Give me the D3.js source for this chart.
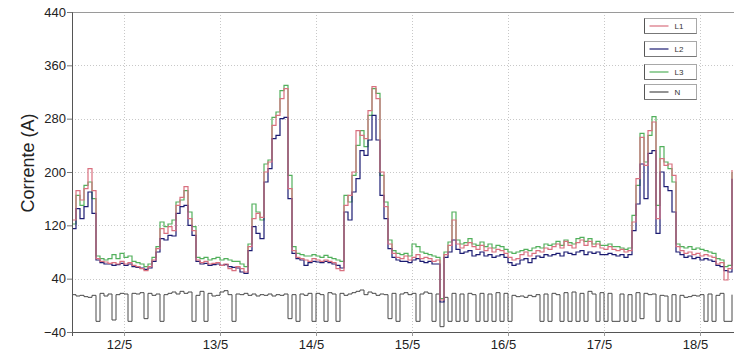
<!DOCTYPE html>
<html>
<head>
<meta charset="utf-8">
<script src="https://cdn.jsdelivr.net/npm/d3@7"></script>
<style>
  html, body { margin: 0; padding: 0; background: #fff; }
  svg { display: block; font-family: "Liberation Sans", Arial, sans-serif; }
</style>
</head>
<body>
<svg id="chart" width="734" height="354"></svg>
<script>
// Hourly phase and neutral currents (A), starting 11/5 11:00
const seriesNames = ["L1", "L2", "L3", "N"];
const seriesColors = ["#d9707f", "#1c1c72", "#52b05c", "#4a4a4a"];

const L1 = [
  128,172,158,175,205,172, 70,66,65,63,64,62,66,62,64,60,58,55,52,58,
  68,85,115,108,118,112,150,162,178,130,112, 68,64,66,62,63,64,60,62,55,
  52,58,55,50,88,130,138,132,200,215,270,285,310,325,175,82, 72,70,68,66,
  70,68,66,68,66,64,55,52,150,165,200,262,255,250,292,328,310,200,148,92,
  78,72,70,74,68,72,76,70,72,70,66,68,8,76,90,128,92,86,90,94,
  88,84,90,82,86,80,84,82,78,72,68,70,76,80,74,78,82,80,86,84,
  88,92,86,96,90,86,94,98,90,96,88,92,86,84,88,84,82,84,80,82,
  125,190,252,210,262,275,130,220,210,212,195,88,82,78,80,76,78,74,76,74,
  72,62,64,38,55,203
];
const L2 = [
  115,145,130,148,170,138, 68,64,62,62,60,61,63,60,62,58,57,56,54,56,
  66,80,100,98,105,104,138,148,150,120,105, 66,62,63,60,61,62,60,61,58,
  57,56,50,48,82,118,108,100,185,205,250,255,280,282,160,78, 70,68,60,64,
  66,65,64,66,64,62,60,56,140,128,170,190,232,225,248,285,248,165,130,85,
  72,68,66,66,64,68,70,66,64,66,62,62,5,72,80,98,84,78,80,82,
  74,76,80,74,76,72,74,76,72,64,60,62,68,70,64,70,74,72,76,74,
  76,78,74,80,78,76,80,82,76,80,78,80,76,76,78,76,74,76,72,76,
  112,152,212,160,228,232,108,200,178,172,140,80,76,72,74,70,72,68,70,68,
  66,60,58,52,50,190
];
const L3 = [
  122,165,150,180,185,160, 74,70,68,70,76,70,78,72,74,66,64,62,58,62,
  72,88,125,118,122,128,155,158,172,140,118, 72,70,72,68,70,72,68,70,68,
  66,66,62,58,92,152,140,128,212,218,282,290,322,330,195,88, 78,76,74,74,
  76,74,72,75,72,70,68,66,165,155,195,240,262,238,285,325,318,195,155,98,
  82,78,76,78,74,92,88,80,78,76,74,72,10,80,95,140,98,92,94,100,
  92,90,95,88,92,86,90,88,84,80,78,80,82,84,82,86,88,86,92,90,
  92,96,90,98,94,92,100,102,96,100,92,96,90,90,92,88,88,86,84,86,
  135,180,258,215,255,283,150,238,215,205,185,92,88,86,88,84,86,84,82,80,
  78,70,68,58,60,200
];
const N = [
  16,14,15,13,12,15,-24,18,14,17,-22,16,18,17,-24,18,17,19,-20,18,
  15,17,-24,16,18,20,17,21,18,20,-24,15,21,-24,18,14,15,20,22,16,
  -24,17,16,18,15,17,14,16,15,17,14,16,15,17,-20,16,-24,17,15,18,
  -24,18,16,-24,19,17,-24,18,15,17,19,21,23,16,20,18,15,17,16,-20,
  18,-24,17,19,16,18,-24,17,20,18,-24,17,-32,12,-24,18,-24,17,-24,18,
  16,-24,18,-24,17,-24,19,-24,18,-24,15,13,14,12,15,13,16,-24,17,-24,
  18,16,-24,19,-24,20,-24,18,-24,21,17,-24,19,-24,18,-24,-24,17,-24,16,
  -24,19,-20,18,16,17,-24,15,14,-24,16,-24,15,12,13,15,14,16,-24,17,
  -24,15,18,-24,-24,16
];
const yTickValues = [-40, 40, 120, 200, 280, 360, 440];
const yAxisTitle = "Corrente (A)";

const seriesData = [L1, L2, L3, N];

const W = 734, H = 354;
const m = { left: 72, right: 0, top: 12, bottom: 22 };
const svg = d3.select("#chart");

const t0 = new Date(2021, 4, 11, 11, 0);
const t1 = new Date(2021, 4, 18, 8, 30);
const times = d3.range(L1.length).map(i => d3.timeHour.offset(t0, i));

const x = d3.scaleTime().domain([t0, t1]).range([m.left, W - m.right]);
const y = d3.scaleLinear().domain([-40, 440]).range([H - m.bottom, m.top]);

const plotBottom = H - m.bottom;

svg.append("defs").append("clipPath").attr("id", "plot-clip")
  .append("rect")
  .attr("x", m.left).attr("y", m.top - 1)
  .attr("width", W - m.left).attr("height", plotBottom - m.top + 1);

// Dotted grid
const dayTicks = d3.timeDay.range(d3.timeDay.ceil(t0), t1);
const grid = svg.append("g").attr("stroke", "#c8c8c8").attr("stroke-dasharray", "1,2").attr("stroke-width", 1);
grid.selectAll("line.h").data(yTickValues.filter(v => v > -40 && v < 440)).join("line")
  .attr("x1", m.left).attr("x2", W)
  .attr("y1", d => Math.round(y(d)) + 0.5).attr("y2", d => Math.round(y(d)) + 0.5);
grid.selectAll("line.v").data(dayTicks).join("line")
  .attr("y1", m.top).attr("y2", plotBottom)
  .attr("x1", d => Math.round(x(d)) + 0.5).attr("x2", d => Math.round(x(d)) + 0.5);

// Top frame line
svg.append("line")
  .attr("x1", m.left).attr("x2", W)
  .attr("y1", m.top + 0.5).attr("y2", m.top + 0.5)
  .attr("stroke", "#9a9a9a");

// Series lines
const line = d3.line()
  .x((d, i) => x(times[i]))
  .y(d => y(d))
  .curve(d3.curveStepAfter);

const lines = svg.append("g").attr("clip-path", "url(#plot-clip)");
[3, 2, 1, 0].forEach(k => {
  lines.append("path")
    .datum(seriesData[k])
    .attr("fill", "none")
    .attr("stroke", seriesColors[k])
    .attr("stroke-width", k === 3 ? 1 : 1.2)
    .attr("d", line);
});

// Y axis
const yAxisG = svg.append("g").attr("transform", `translate(${m.left},0)`);
yAxisG.call(d3.axisLeft(y).tickValues(d3.range(-40, 441, 10)).tickSize(3).tickFormat(""));
yAxisG.call(d3.axisLeft(y).tickValues(yTickValues).tickSize(5).tickPadding(1));
yAxisG.selectAll(".domain").attr("stroke", "#555");
yAxisG.selectAll(".tick line").attr("stroke", "#777");
yAxisG.selectAll(".tick text").attr("font-size", 13).attr("fill", "#222")
  .attr("font-family", "'Liberation Sans', Arial, sans-serif");

// X axis
const xAxisG = svg.append("g").attr("transform", `translate(0,${plotBottom})`);
xAxisG.call(d3.axisBottom(x).ticks(d3.timeHour.every(6)).tickSize(3).tickFormat(""));
xAxisG.call(d3.axisBottom(x).tickValues(dayTicks).tickSize(4).tickPadding(4)
  .tickFormat(d3.timeFormat("%-d/%-m")));
xAxisG.selectAll(".domain").attr("stroke", "#555");
xAxisG.selectAll(".tick line").attr("stroke", "#999");
xAxisG.selectAll(".tick text").attr("font-size", 13).attr("fill", "#222").attr("dx", -5)
  .attr("font-family", "'Liberation Sans', Arial, sans-serif");

// Y axis title
svg.append("text")
  .attr("transform", `translate(34,${(m.top + plotBottom) / 2 - 9}) rotate(-90)`)
  .attr("text-anchor", "middle")
  .attr("font-size", 18)
  .attr("fill", "#222")
  .text(yAxisTitle);

// Legend boxes
const legendTops = [18, 41, 64, 84];
const leg = svg.append("g");
seriesNames.forEach((name, i) => {
  const g = leg.append("g").attr("transform", `translate(644.5,${legendTops[i] + 0.5})`);
  g.append("rect").attr("width", 52).attr("height", 15)
    .attr("fill", "#fff").attr("stroke", "#a8a8a8");
  g.append("line").attr("x1", 0).attr("x2", 0).attr("y1", 0).attr("y2", 15).attr("stroke", "#555");
  g.append("line").attr("x1", 0).attr("x2", 52).attr("y1", 15).attr("y2", 15).attr("stroke", "#777");
  g.append("line").attr("x1", 5).attr("x2", 24).attr("y1", 7.5).attr("y2", 7.5)
    .attr("stroke", seriesColors[i]).attr("stroke-width", 1.2);
  g.append("text").attr("x", 30).attr("y", 10.5)
    .attr("font-size", 8).attr("fill", "#333").text(name);
});
</script>
</body>
</html>
